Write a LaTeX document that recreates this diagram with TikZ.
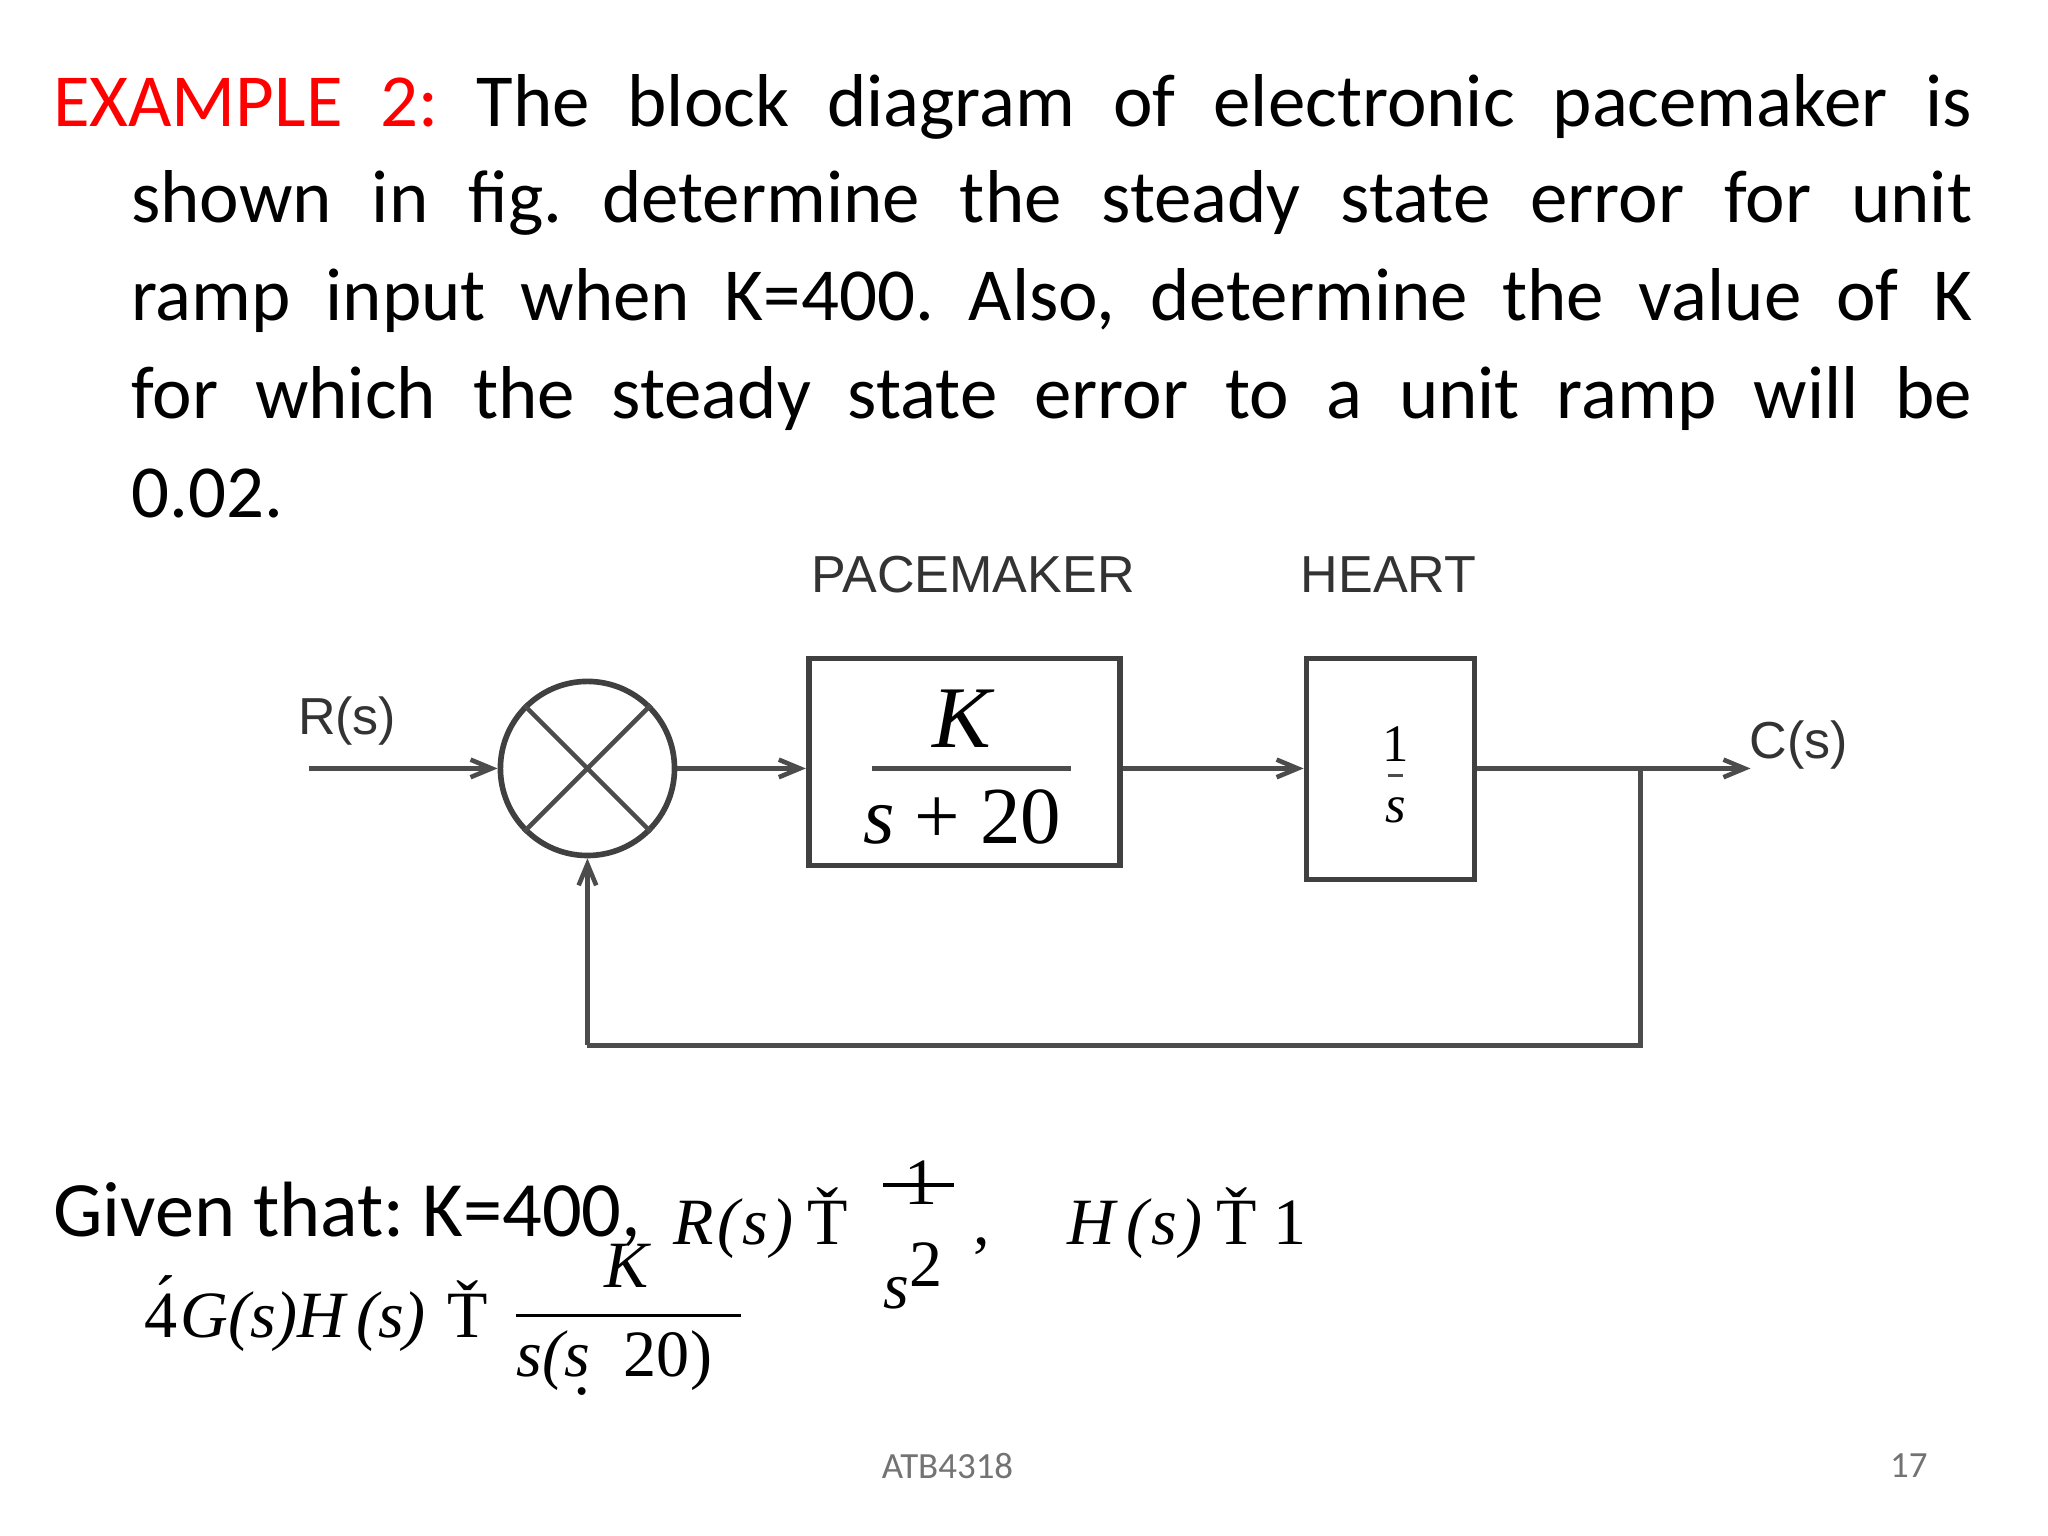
\documentclass[tikz,border=0pt]{standalone}
\usepackage{fontspec}
\usetikzlibrary{arrows.meta}
\setmainfont{Carlito}
\newfontfamily\arialf{Liberation Sans}
\newfontfamily\timesf{Liberation Serif}
\frenchspacing
\begin{document}
\begin{tikzpicture}[x=0.01cm,y=-0.01cm,
  blk/.style={draw=black!75,line width=1.6pt,inner sep=0},
  wire/.style={draw=black!70,line width=1.3pt},
  arr/.style={wire,-{Straight Barb[length=6pt,width=5pt]}},
  lab/.style={font=\arialf\fontsize{14.8pt}{18pt}\selectfont,text=black!80},
  ttl/.style={anchor=west,inner sep=0,font=\fontsize{21.3pt}{26pt}\selectfont},
  mth/.style={font=\timesf\itshape\fontsize{18.8pt}{22pt}\selectfont,inner sep=0}]
\useasboundingbox (0,0) rectangle (2048,1536);
\fill[white] (0,0) rectangle (2048,1536);
\begin{scope}[scale=0.989]
% title
\node[ttl] (t1) at (53,108) {\makebox[19.18cm][s]{\textcolor{red}{EXAMPLE 2:} The block diagram of electronic pacemaker is}};
\node[ttl] (t2) at (132,205) {\makebox[18.4cm][s]{shown in fig. determine the steady state error for unit}};
\node[ttl] (t3) at (132,304) {\makebox[18.4cm][s]{ramp input when K=400. Also, determine the value of K}};
\node[ttl] (t4) at (132,403) {\makebox[18.4cm][s]{for which the steady state error to a unit ramp will be}};
\node[ttl] (t5) at (132,499) {0.02.};
% diagram
\node[lab] (pm) at (984,581) {PACEMAKER};
\node[lab] (ht) at (1404,581) {HEART};
\node[lab] (rs) at (351,729) {R(s)};
\node[lab] (cs) at (1819,753) {C(s)};
\coordinate (in) at (312,777);
\node[circle,blk,minimum size=1.74cm] (sum) at (594,777) {};
\draw[wire] (sum.45)--(sum.225) (sum.135)--(sum.315);
\node[blk,minimum width=3.11cm,minimum height=2.07cm] (b1) at (975,770.5) {};
\draw[wire] (882,777)--(1083,777);
\node[mth,font=\timesf\itshape\fontsize{25pt}{30pt}\selectfont] (k1) at (973,727) {K};
\node[mth,font=\timesf\fontsize{23pt}{30pt}\selectfont] (d1) at (973,826) {\textit{s} + 20};
\node[blk,minimum width=1.68cm,minimum height=2.21cm] (b2) at (1406,777.5) {};
\node[mth,font=\timesf\fontsize{15pt}{20pt}\selectfont] (n2) at (1411,752) {1};
\draw[wire,line width=1pt] (1403,784)--(1419,784);
\node[mth,font=\timesf\itshape\fontsize{15pt}{20pt}\selectfont] (s2) at (1411,819) {s};
\coordinate (out) at (1770,777);
\coordinate (br) at (1659,777);
\coordinate (bot1) at (1659,1057);
\coordinate (bot2) at (594,1057);
\draw[arr] (in)--(sum.west);
\draw[arr] (sum.east)--(sum.east-|b1.west);
\draw[arr] (sum.east-|b1.east)--(sum.east-|b2.west);
\draw[arr] (sum.east-|b2.east)--(out);
\draw[wire] (br)--(bot1)--(bot2);
\draw[arr] (bot2)--(sum.south);
% given
\node[anchor=west,inner sep=0,font=\fontsize{22.3pt}{26pt}\selectfont] (given) at (53,1228) {Given that: K=400,};
\node[mth,anchor=west] (r) at (680,1237) {R\kern1pt(\kern1pt s\kern1pt)\kern4pt\upshape Ť};
\node[mth] (one) at (931,1196) {\upshape 1};
\draw[line width=1pt] (893,1198)--(965,1198);
\node[mth] (ssq) at (924,1290) {s$^{\textup{2}}$};
\node[mth,anchor=west] (h) at (984,1237) {\upshape ,\kern22pt\itshape H\kern3pt(\kern1pt s\kern1pt)\kern4pt\upshape Ť 1};
\node[mth,anchor=west] (gh) at (145,1328) {\upshape 4\kern-0.3em\raisebox{1pt}{\'{}}\kern0.1em\itshape G(s)H\kern3pt(s)\kern6pt\upshape Ť};
\node[mth] (kk) at (634,1280) {K};
\draw[line width=1pt] (522,1330)--(749,1330);
\node[mth] (den) at (621,1378) {s(s\kern-4pt\raisebox{-5pt}{.}\kern9pt\upshape 20)};
% footer
\node[font=\fontsize{10.5pt}{12pt}\selectfont,text=black!55] (ft) at (958,1482) {ATB4318};
\node[font=\fontsize{10.5pt}{12pt}\selectfont,text=black!55] (pg) at (1930,1482) {17};
\end{scope}
\end{tikzpicture}
\end{document}
